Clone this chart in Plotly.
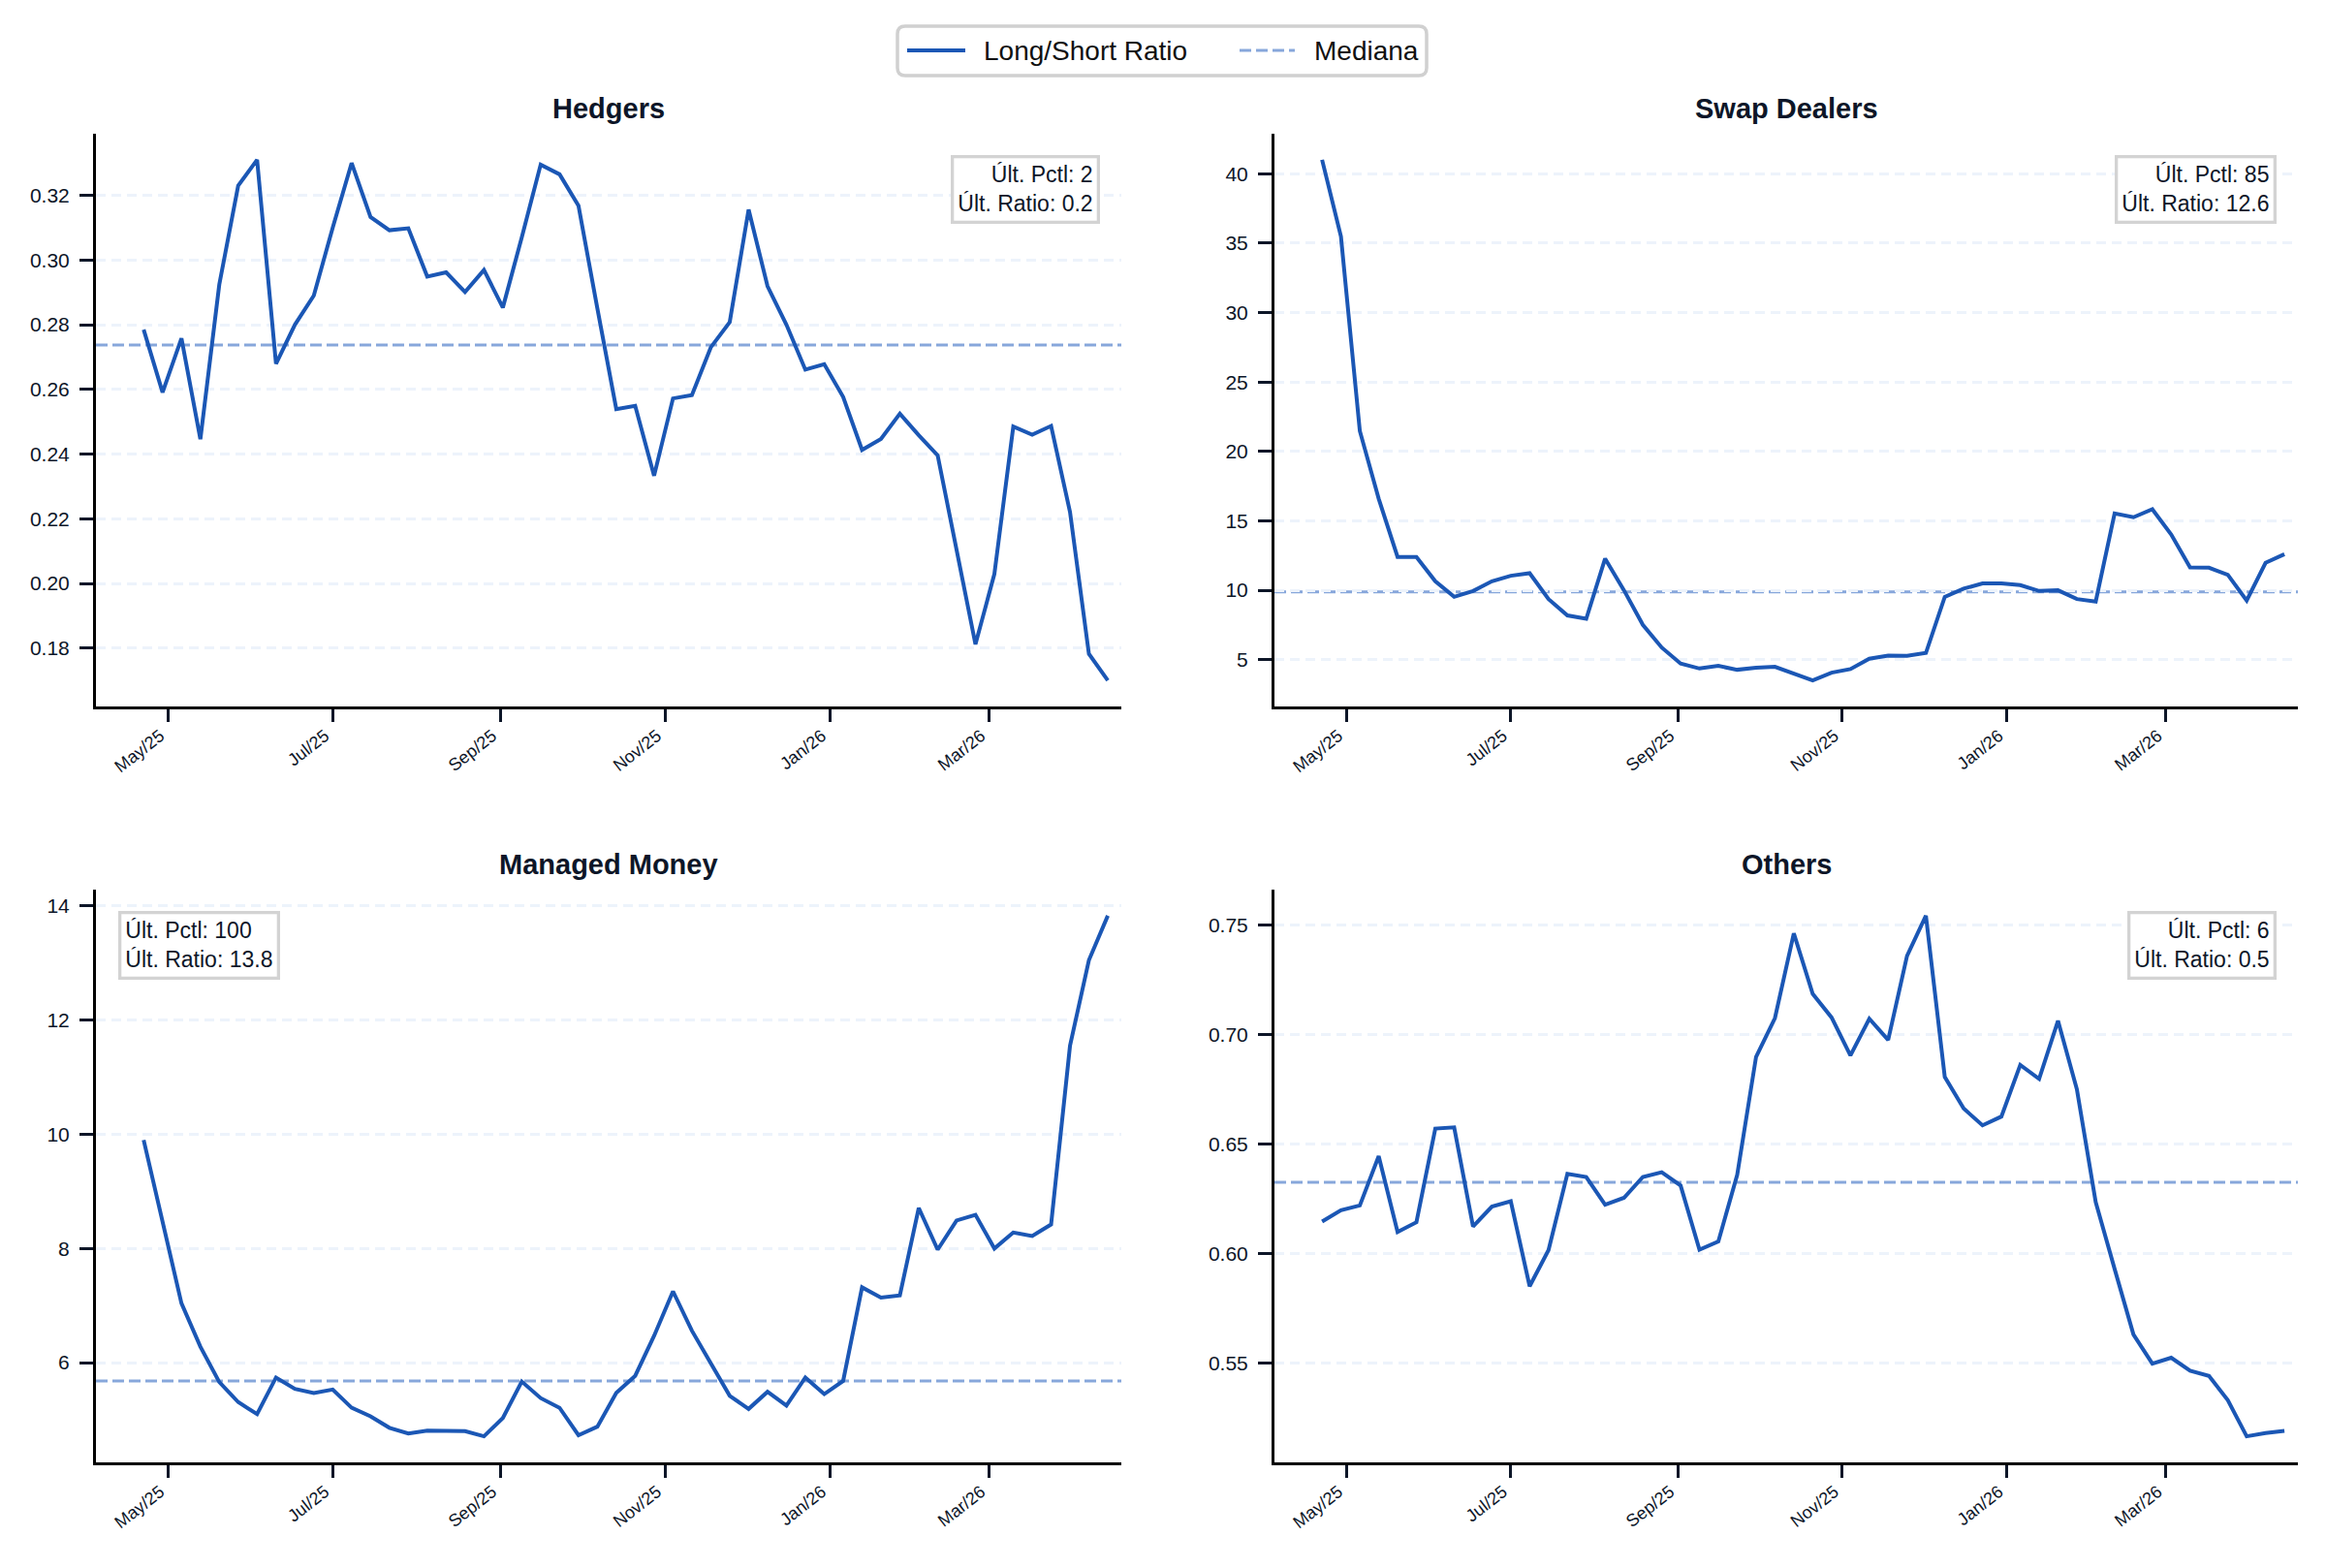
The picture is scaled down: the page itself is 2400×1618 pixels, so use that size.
import pandas as pd
import plotly.graph_objects as go

# ---------------- data ----------------
dates = pd.date_range("2025-04-22", periods=52, freq="7D")

hedgers = [0.2785, 0.2591, 0.2758, 0.2446, 0.2924, 0.3230, 0.3310, 0.2679, 0.2800, 0.2890,
           0.3100, 0.3300, 0.3133, 0.3092, 0.3098, 0.2949, 0.2962, 0.2901, 0.2969, 0.2853,
           0.3070, 0.3295, 0.3265, 0.3168, 0.2850, 0.2539, 0.2549, 0.2333, 0.2572, 0.2582,
           0.2730, 0.2808, 0.3156, 0.2919, 0.2800, 0.2661, 0.2678, 0.2577, 0.2413, 0.2447,
           0.2525, 0.2458, 0.2396, 0.2100, 0.1812, 0.2029, 0.2485, 0.2460, 0.2487, 0.2221,
           0.1782, 0.1700]

swap_dealers = [41.0, 35.47, 21.47, 16.6, 12.40, 12.40, 10.65, 9.53, 9.95, 10.65,
                11.05, 11.23, 9.37, 8.19, 7.95, 12.28, 10.0, 7.51, 5.88, 4.72,
                4.37, 4.56, 4.28, 4.42, 4.49, 4.02, 3.51, 4.07, 4.33, 5.07,
                5.30, 5.28, 5.49, 9.53, 10.12, 10.49, 10.49, 10.37, 9.95, 10.0,
                9.37, 9.19, 15.53, 15.26, 15.84, 14.02, 11.65, 11.63, 11.12, 9.26,
                11.98, 12.6]

managed_money = [9.9, 8.5, 7.04, 6.28, 5.66, 5.31, 5.10, 5.74, 5.54, 5.47,
                 5.53, 5.21, 5.06, 4.86, 4.76, 4.81, 4.80, 4.80, 4.71, 5.03,
                 5.67, 5.38, 5.21, 4.73, 4.88, 5.47, 5.77, 6.47, 7.25, 6.56,
                 5.99, 5.42, 5.19, 5.49, 5.25, 5.74, 5.45, 5.68, 7.32, 7.14,
                 7.18, 8.71, 7.98, 8.49, 8.59, 8.00, 8.28, 8.22, 8.42, 11.55,
                 13.05, 13.83]

others = [0.6146, 0.6198, 0.6220, 0.6445, 0.6099, 0.6143, 0.6571, 0.6577, 0.6124, 0.6215,
          0.6239, 0.5851, 0.6016, 0.6364, 0.6350, 0.6223, 0.6255, 0.6350, 0.6372, 0.6311,
          0.6018, 0.6055, 0.6360, 0.6899, 0.7076, 0.7463, 0.7187, 0.7079, 0.6905, 0.7073,
          0.6976, 0.7360, 0.7544, 0.6807, 0.6663, 0.6586, 0.6626, 0.6862, 0.6798, 0.7064,
          0.6751, 0.6235, 0.5930, 0.5630, 0.5497, 0.5524, 0.5465, 0.5441, 0.5330, 0.5165,
          0.5180, 0.5190]

medians = [0.2737, 9.88, 5.68, 0.6326]
last_pctl = [2, 85, 100, 6]
panel_titles = ["Hedgers", "Swap Dealers", "Managed Money", "Others"]
series = [hedgers, swap_dealers, managed_money, others]
legend_labels = ["Long/Short Ratio", "Mediana"]

tick_dates = ["2025-05-01", "2025-07-01", "2025-09-01", "2025-11-01", "2026-01-01", "2026-03-01"]
tick_labels = ["May/25", "Jul/25", "Sep/25", "Nov/25", "Jan/26", "Mar/26"]

y_dticks = [0.02, 5, 2, 0.05]
y_formats = [".2f", "d", "d", ".2f"]

# ---------------- style ----------------
FONT = "Liberation Sans, Arial, sans-serif"
TXT = "#0d1628"
LINE = "#1b57b5"
MED = "#87a7db"
GRID = "#edf3fb"
W, H = 2400, 1618

xdoms = [[0.04125, 0.48208], [0.54792, 0.98792], [0.04125, 0.48208], [0.54792, 0.98792]]
ydoms = [[0.54944, 0.91471], [0.54944, 0.91471], [0.06737, 0.43263], [0.06737, 0.43263]]
x_range = ["2025-04-04 08:00", "2026-04-19"]

fig = go.Figure()
layout = dict(
    width=W, height=H,
    margin=dict(l=0, r=0, t=0, b=0),
    paper_bgcolor="white", plot_bgcolor="white",
    font=dict(family=FONT, color=TXT),
    showlegend=False,
)

annotations = []
shapes = []
for k in range(4):
    sfx = "" if k == 0 else str(k + 1)
    xa, ya = "x" + sfx, "y" + sfx
    vals = series[k]
    lo, hi = min(vals), max(vals)
    pad = 0.05 * (hi - lo)
    fig.add_trace(go.Scatter(
        x=dates, y=vals, mode="lines", xaxis=xa, yaxis=ya,
        line=dict(color=LINE, width=4),
        name=legend_labels[0],
    ))
    layout["xaxis" + sfx] = dict(
        domain=xdoms[k], anchor=ya, type="date", range=x_range,
        tickvals=tick_dates, ticktext=tick_labels, tickangle=-38,
        tickfont=dict(size=18, color=TXT, family=FONT),
        showline=True, linecolor="#000000", linewidth=3,
        ticks="outside", ticklen=13, tickwidth=2.5, tickcolor=TXT,
        showgrid=False, zeroline=False,
        ticklabelshift=-8, ticklabelstandoff=-3,
    )
    layout["yaxis" + sfx] = dict(
        domain=ydoms[k], anchor=xa, range=[lo - pad, hi + pad],
        dtick=y_dticks[k], tick0=0, tickformat=y_formats[k],
        tickfont=dict(size=21, color=TXT, family=FONT),
        showline=True, linecolor="#000000", linewidth=3,
        ticks="outside", ticklen=14, tickwidth=3, tickcolor=TXT,
        showgrid=True, gridcolor=GRID, gridwidth=2.5, griddash="10px,6px",
        zeroline=False, ticklabelstandoff=6,
    )
    shapes.append(dict(type="line", xref=xa + " domain", yref=ya, x0=0, x1=1,
                       y0=medians[k], y1=medians[k],
                       line=dict(color=MED, width=3, dash="12px,5px"), layer="below"))
    # subplot title
    annotations.append(dict(
        text="<b>" + panel_titles[k] + "</b>", xref=xa + " domain", yref=ya + " domain",
        x=0.5, y=1, xanchor="center", yanchor="bottom", yshift=8, showarrow=False,
        font=dict(size=29, color=TXT, family=FONT),
    ))
    # info box
    left = (k == 2)
    annotations.append(dict(
        text=f"Últ. Pctl: {last_pctl[k]}<br>Últ. Ratio: {vals[-1]:.1f}",
        xref=xa + " domain", yref=ya + " domain",
        x=0 if left else 1, y=1, xanchor="left" if left else "right", yanchor="top",
        xshift=23 if left else -22, yshift=-22, align="left" if left else "right",
        showarrow=False, bgcolor="white", bordercolor="#d3d3d3", borderwidth=3.3, borderpad=4,
        font=dict(size=23, color=TXT, family=FONT),
    ))

# ---------------- figure legend (drawn in paper space) ----------------
def px(x):
    return x / W

def py(y):
    return 1 - y / H

bx0, bx1, by0, by1, r = 926, 1472, 27, 78, 8
path = (f"M {px(bx0 + r)},{py(by0)} L {px(bx1 - r)},{py(by0)} "
        f"Q {px(bx1)},{py(by0)} {px(bx1)},{py(by0 + r)} L {px(bx1)},{py(by1 - r)} "
        f"Q {px(bx1)},{py(by1)} {px(bx1 - r)},{py(by1)} L {px(bx0 + r)},{py(by1)} "
        f"Q {px(bx0)},{py(by1)} {px(bx0)},{py(by1 - r)} L {px(bx0)},{py(by0 + r)} "
        f"Q {px(bx0)},{py(by0)} {px(bx0 + r)},{py(by0)} Z")
shapes.append(dict(type="path", xref="paper", yref="paper", path=path,
                   fillcolor="white", line=dict(color="#d0d0d0", width=3.5)))
ly = 52
shapes.append(dict(type="line", xref="paper", yref="paper", x0=px(936), x1=px(996),
                   y0=py(ly), y1=py(ly), line=dict(color=LINE, width=4)))
shapes.append(dict(type="line", xref="paper", yref="paper", x0=px(1279), x1=px(1336),
                   y0=py(ly), y1=py(ly), line=dict(color=MED, width=3, dash="12px,5px")))
annotations.append(dict(text=legend_labels[0], xref="paper", yref="paper", x=px(1013), y=py(ly),
                        xanchor="left", yanchor="middle", showarrow=False,
                        font=dict(size=28, color="#111111", family=FONT)))
annotations.append(dict(text=legend_labels[1], xref="paper", yref="paper", x=px(1354), y=py(ly),
                        xanchor="left", yanchor="middle", showarrow=False,
                        font=dict(size=28, color="#111111", family=FONT)))

layout["annotations"] = annotations
layout["shapes"] = shapes
fig.update_layout(**layout)
fig.write_html("out.html")
